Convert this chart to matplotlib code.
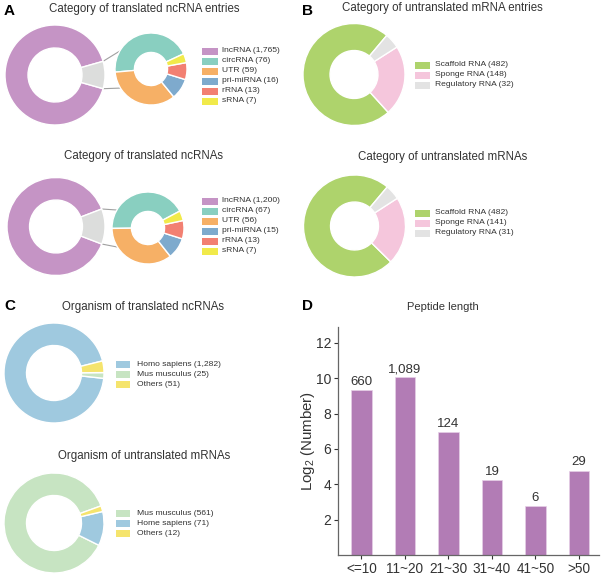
import matplotlib
matplotlib.use("Agg")
import matplotlib.pyplot as plt
import numpy as np
from matplotlib.patches import Rectangle

plt.rcParams['font.family'] = ['Liberation Sans', 'DejaVu Sans']

# ---------------- data ----------------
ncrna_types = ['lncRNA', 'circRNA', 'UTR', 'pri-miRNA', 'rRNA', 'sRNA']
ncrna_entries = [1765, 76, 59, 16, 13, 7]
ncrna_unique = [1200, 67, 56, 15, 13, 7]
ncrna_colors = ['#c594c5', '#89cfc0', '#f6b066', '#7eaacd', '#f28072', '#f1ea4a']
other_grey = '#dcdddc'

mrna_types = ['Scaffold RNA', 'Sponge RNA', 'Regulatory RNA']
mrna_entries = [482, 148, 32]
mrna_unique = [482, 141, 31]
mrna_colors = ['#aed36c', '#f5c6dc', '#e3e3e3']

org_tr_names = ['Homo sapiens', 'Mus musculus', 'Others']
org_tr_vals = [1282, 25, 51]
org_tr_colors = ['#9fc9df', '#c7e4c2', '#f5e46d']

org_un_names = ['Mus musculus', 'Home sapiens', 'Others']
org_un_vals = [561, 71, 12]
org_un_colors = ['#c7e4c2', '#9fc9df', '#f5e46d']

pep_cats = ['<=10', '11~20', '21~30', '31~40', '41~50', '>50']
pep_counts = ['660', '1,089', '124', '19', '6', '29']
pep_log2 = [9.35, 10.05, 6.95, 4.25, 2.78, 4.78]
bar_color = '#b27cb5'

# ---------------- figure ----------------
W, H = 605, 577
fig = plt.figure(figsize=(W / 100, H / 100), dpi=100)
ax = fig.add_axes([0, 0, 1, 1])
TXT = '#333333'


def Y(py):
    return H - py


def donut(vals, colors, cx, cy, r, frac, start):
    ax.pie(vals, colors=colors, center=(cx, Y(cy)), radius=r, startangle=start,
           counterclock=True,
           wedgeprops=dict(width=r * frac, edgecolor='white', linewidth=1.0))


def legend(labels, vals, colors, x0, w, y0, tx, fs=6.1, dy=10):
    for i, (lab, v, c) in enumerate(zip(labels, vals, colors)):
        yy = y0 + i * dy
        ax.add_patch(Rectangle((x0, Y(yy) - 3.5), w, 7, facecolor=c, edgecolor='none'))
        ax.text(tx, Y(yy), f'{lab} ({v:,})', fontsize=fs, color=TXT, va='center', ha='left')


def bar_of_pie(vals, cx1, cy1, r1, cx2, cy2, r2, start2, lx, ly):
    main = vals[0]
    rest = vals[1:]
    g = sum(rest) / sum(vals) * 360.0
    donut([main, sum(rest)], [ncrna_colors[0], other_grey], cx1, cy1, r1, 0.46, g / 2)
    donut(rest, ncrna_colors[1:], cx2, cy2, r2, 0.54, start2)
    # connector lines
    for a1, a2 in [(g / 2, 150), (-g / 2, 212)]:
        x1 = cx1 + r1 * np.cos(np.radians(a1))
        y1 = Y(cy1) + r1 * np.sin(np.radians(a1))
        x2 = cx2 + r2 * np.cos(np.radians(a2))
        y2 = Y(cy2) + r2 * np.sin(np.radians(a2))
        ax.plot([x1, x2], [y1, y2], color='#a0a0a0', lw=0.8, zorder=0)
    legend(ncrna_types, vals, ncrna_colors, 202, 16, ly, lx)


# Panel A
bar_of_pie(ncrna_entries, 55, 75, 50, 151, 69, 36, 25, 222, 51)
bar_of_pie(ncrna_unique, 56, 226.5, 49, 148, 228, 36, 28, 222, 201)

# Panel B
donut(mrna_entries, mrna_colors, 354, 74.5, 51, 0.53, 50)
legend(mrna_types, mrna_entries, mrna_colors, 415, 15, 65, 435)
donut(mrna_unique, mrna_colors, 354.5, 226, 51, 0.53, 50)
legend(mrna_types, mrna_unique, mrna_colors, 415, 15, 213, 435)

# Panel C
donut(org_tr_vals, org_tr_colors, 54, 373, 50, 0.45, 14)
legend(org_tr_names, org_tr_vals, org_tr_colors, 116, 14, 364, 137)
donut(org_un_vals, org_un_colors, 54, 523, 50, 0.45, 20)
legend(org_un_names, org_un_vals, org_un_colors, 116, 14, 513.5, 137)

ax.set_xlim(0, W)
ax.set_ylim(0, H)
ax.set_aspect('auto')
ax.axis('off')

# titles
titles = [
    ('Category of translated ncRNA entries', 144, 9),
    ('Category of translated ncRNAs', 143, 156),
    ('Category of untranslated mRNA entries', 442, 8),
    ('Category of untranslated mRNAs', 443, 157),
    ('Organism of translated ncRNAs', 143, 307),
    ('Organism of untranslated mRNAs', 144, 456),
]
for t, x, y in titles:
    ax.text(x, Y(y), t, fontsize=8.3, color=TXT, ha='center', va='center')
ax.text(443, Y(307), 'Peptide length', fontsize=8.0, color=TXT, ha='center', va='center')

for lab, x, y in [('A', 4, 11), ('B', 302, 11), ('C', 4, 306), ('D', 302, 306)]:
    ax.text(x, Y(y), lab, fontsize=11, fontweight='bold', color='black', ha='left', va='center')

# Panel D
L, R, B, T = 338, 599, 555, 327
axd = fig.add_axes([L / W, (H - B) / H, (R - L) / W, (B - T) / H])
xpos = np.arange(len(pep_cats))
axd.bar(xpos, pep_log2, width=0.48, color=bar_color, edgecolor='#e6cfe6', linewidth=0.5)
for x, h, c in zip(xpos, pep_log2, pep_counts):
    axd.text(x, h + 0.12, c, ha='center', va='bottom', fontsize=9.5, color=TXT)
axd.set_xlim(-0.54, 5.46)
axd.set_ylim(0, 12.9)
axd.set_yticks([2, 4, 6, 8, 10, 12])
axd.set_xticks(xpos)
axd.set_xticklabels(pep_cats)
axd.tick_params(axis='both', colors=TXT, length=3, width=0.8, direction='out', pad=2)
axd.tick_params(axis='y', labelsize=10)
axd.tick_params(axis='x', labelsize=9.8)
for s in ['top', 'right']:
    axd.spines[s].set_visible(False)
for s in ['left', 'bottom']:
    axd.spines[s].set_color('#666666')
    axd.spines[s].set_linewidth(0.9)
axd.set_ylabel(r'Log$_\mathregular{2}$ (Number)', fontsize=10.8, color=TXT)
axd.yaxis.set_label_coords(-0.08, 0.5)

fig.savefig('out.png', dpi=100)
